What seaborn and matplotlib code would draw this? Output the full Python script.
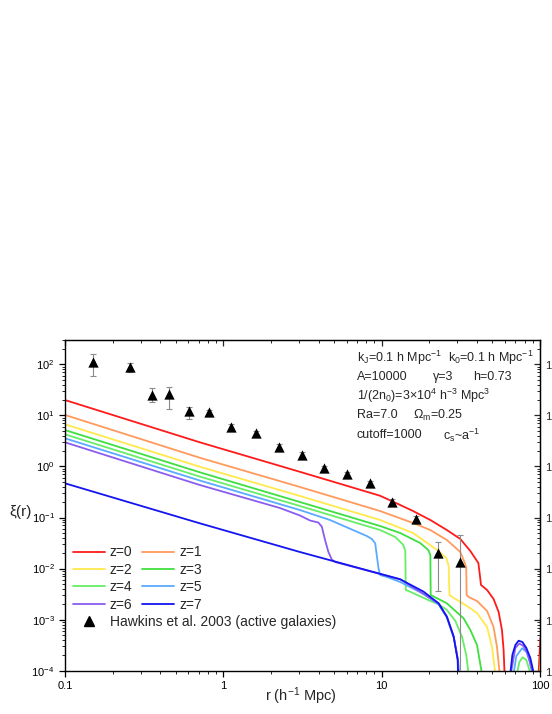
import numpy as np
import pandas as pd
import matplotlib
matplotlib.use("Agg")
import matplotlib.pyplot as plt
from matplotlib.lines import Line2D
from matplotlib.ticker import LogLocator, NullFormatter
import seaborn as sns

nan = np.nan

# model xi(r) curves per redshift, NaN marks where xi goes negative
z0_r = [0.1, 0.711, 3.05, 9.78, 13.1, 15.8, 20.3, 25.8, 31.4, 36.3, 40.8, 41.7, 42.4, 46.3, 50.9, 54.8, 57.5, 58.9, 59.8, nan, 96.7, 100.6]
z0_xi = [20.0, 2.97, 0.785, 0.267, 0.176, 0.134, 0.0894, 0.0569, 0.0380, 0.0221, 0.01286, 0.00748, 0.00477, 0.00381, 0.00254, 0.00141, 0.000627, 0.000255, 8e-5, nan, 4e-5, 4.4e-4]

z1_r = [0.1, 0.711, 3.05, 9.78, 15.8, 20.3, 25.8, 31.4, 33.7, 34.2, 34.4, 35.4, 40.0, 46.3, 50.9, 53.5, 55.8, nan, 98.4, 100.6]
z1_xi = [10.2, 1.48, 0.396, 0.134, 0.0781, 0.0569, 0.0363, 0.0211, 0.0123, 0.01026, 0.00304, 0.00278, 0.00232, 0.00148, 0.000718, 0.000291, 8e-5, nan, 4e-5, 1.94e-4]

z2_r = [0.1, 0.711, 3.05, 9.78, 15.8, 22.4, 25.6, 26.5, 26.8, 27.9, 31.4, 34.6, 40.0, 46.3, 49.8, 52.4, nan, 99.9, 100.6]
z2_xi = [6.69, 0.988, 0.264, 0.0894, 0.0497, 0.0231, 0.0161, 0.01123, 0.00304, 0.00278, 0.00222, 0.00185, 0.00135, 0.000718, 0.000291, 8e-5, nan, 4e-5, 1.18e-4]

z3_r = [0.1, 0.711, 3.05, 9.78, 13.1, 17.5, 19.7, 20.3, 20.4, 21.3, 25.8, 32.9, 36.3, 40.0, 43.2]
z3_xi = [5.17, 0.768, 0.201, 0.0682, 0.0497, 0.0317, 0.0231, 0.01845, 0.00304, 0.00284, 0.00209, 0.001063, 0.000627, 0.000319, 8e-5]

z4_r = [0.1, 0.711, 3.05, 9.78, 12.2, 13.7, 14.1, 14.2, 15.1, 20.3, 22.8, 25.8, 29.2, 32.2, 34.2, 35.5, nan, 71.6, 74.1, 77.7, 82.0, 86.9]
z4_xi = [4.26, 0.633, 0.168, 0.0569, 0.0415, 0.0290, 0.0221, 0.00381, 0.00353, 0.00232, 0.00202, 0.00155, 0.000941, 0.000457, 0.000203, 8e-5, nan, 9e-5, 1.48e-4, 1.83e-4, 1.62e-4, 9e-5]

z5_r = [0.1, 0.711, 3.05, 4.72, 8.06, 8.67, 9.10, 9.55, 9.78, 10.8, 13.1, 18.4, 22.9, 25.8, 28.5, 30.4, 30.9, nan, 68.2, 70.9, 77.1, 82.0, 85.7, 89.1]
z5_xi = [3.56, 0.530, 0.140, 0.0894, 0.0434, 0.0380, 0.0313, 0.01013, 0.00748, 0.00684, 0.00546, 0.00318, 0.00198, 0.001102, 0.000447, 0.000162, 8e-5, nan, 9e-5, 1.94e-4, 2.75e-4, 2.33e-4, 1.62e-4, 9e-5]

z6_r = [0.1, 0.711, 2.28, 3.05, 3.53, 3.98, 4.19, 4.39, 4.61, 4.84, 5.08, 13.1, 22.8, 25.8, 28.5, 30.3, 30.5, nan, 65.5, 69.9, 74.1, 78.5, 83.2, 90.2]
z6_xi = [2.97, 0.433, 0.1535, 0.1095, 0.0874, 0.0799, 0.0661, 0.0363, 0.0211, 0.01506, 0.01345, 0.00617, 0.00209, 0.001153, 0.000468, 0.000162, 8e-5, nan, 9e-5, 2.79e-4, 3.41e-4, 3.05e-4, 2.22e-4, 9e-5]

z7_r = [0.1, 0.711, 3.05, 13.1, 18.4, 22.9, 25.8, 28.5, 30.2, 30.4, nan, 65.0, 66.9, 69.9, 73.3, 77.4, 82.0, 86.9, 91.2]
z7_xi = [0.468, 0.0770, 0.0211, 0.00617, 0.00353, 0.00209, 0.001142, 0.000464, 0.000162, 8e-5, nan, 9e-5, 2.03e-4, 3.19e-4, 3.87e-4, 3.65e-4, 2.79e-4, 1.77e-4, 9e-5]

# Hawkins et al. 2003 (active galaxies)
haw_r = [0.150, 0.256, 0.352, 0.453, 0.608, 0.811, 1.11, 1.61, 2.26, 3.16, 4.35, 6.02, 8.46, 11.7, 16.4, 22.7, 31.4]
haw_xi = [112, 87, 25, 25.9, 12.2, 11.5, 6.0, 4.45, 2.37, 1.68, 0.92, 0.70, 0.468, 0.206, 0.092, 0.0200, 0.0133]
haw_lo = [59, 72, 18.5, 13.2, 8.4, 10.0, 5.2, 3.85, 2.05, 1.45, 0.80, 0.61, 0.41, 0.18, 0.080, 0.0037, 1e-6]
haw_hi = [159, 106, 34, 36, 14.8, 13.0, 6.8, 5.0, 2.7, 1.9, 1.04, 0.79, 0.53, 0.235, 0.105, 0.0336, 0.0455]

z_labels = ["z=0", "z=1", "z=2", "z=3", "z=4", "z=5", "z=6", "z=7"]
z_colors = ["#ff1a1a", "#ff9a5c", "#ffe94d", "#3fdf3f", "#66ee66", "#5aaaff", "#8a5cf0", "#1414f0"]

sns.set_style("ticks")
plt.rcParams["font.family"] = ["Liberation Sans", "DejaVu Sans"]
plt.rcParams["mathtext.fontset"] = "custom"
plt.rcParams["mathtext.rm"] = "Liberation Sans"
plt.rcParams["mathtext.it"] = "Liberation Sans:italic"
plt.rcParams["mathtext.default"] = "regular"

curves = [(z0_r, z0_xi), (z1_r, z1_xi), (z2_r, z2_xi), (z3_r, z3_xi),
          (z4_r, z4_xi), (z5_r, z5_xi), (z6_r, z6_xi), (z7_r, z7_xi)]
rows = []
for lab, (rr, xx) in zip(z_labels, curves):
    seg = 0
    for r, xi in zip(rr, xx):
        if np.isnan(r):
            seg += 1
            continue
        rows.append({"z": lab, "seg": seg, "r": r, "xi": xi})
df = pd.DataFrame(rows)

fig = plt.figure(figsize=(5.52, 7.14), dpi=100)
ax = fig.add_axes([65 / 552, 1 - 670.7 / 714, 475 / 552, 330.7 / 714])
ax.set_xscale("log")
ax.set_yscale("log")

sns.lineplot(data=df, x="r", y="xi", hue="z", units="seg", estimator=None, sort=False,
             palette=z_colors, linewidth=1.3, legend=False, ax=ax)

haw_xi_a = np.array(haw_xi)
yerr = [haw_xi_a - np.array(haw_lo), np.array(haw_hi) - haw_xi_a]
ax.errorbar(haw_r, haw_xi, yerr=yerr, fmt="none", ecolor="#8c8c8c", elinewidth=0.8,
            capsize=2.5, capthick=0.8, zorder=3)
sns.scatterplot(x=haw_r, y=haw_xi, marker="^", color="black", s=55, linewidth=0,
                zorder=4, ax=ax)

ax.set_xlim(0.1, 100)
ax.set_ylim(1e-4, 300)
ax.set_xlabel("")
ax.set_ylabel("")

ax.set_xticks([0.1, 1, 10, 100], labels=["0.1", "1", "10", "100"])
ax.xaxis.set_minor_locator(LogLocator(base=10, subs=np.arange(2, 10), numticks=20))
ax.xaxis.set_minor_formatter(NullFormatter())
ax.yaxis.set_major_locator(LogLocator(base=10, numticks=20))
ax.yaxis.set_minor_locator(LogLocator(base=10, subs=np.arange(2, 10), numticks=20))
ax.yaxis.set_minor_formatter(NullFormatter())
ax.tick_params(which="major", direction="out", length=4, width=0.9, labelsize=8, colors="black")
ax.tick_params(which="minor", direction="out", length=2.5, width=0.7)
for s in ax.spines.values():
    s.set_linewidth(1.0)
    s.set_color("black")

# mirrored axes: ticks pointing inward
sec_y = ax.secondary_yaxis("right")
sec_y.yaxis.set_major_locator(LogLocator(base=10, numticks=20))
sec_y.yaxis.set_minor_locator(LogLocator(base=10, subs=np.arange(2, 10), numticks=20))
sec_y.yaxis.set_minor_formatter(NullFormatter())
sec_y.tick_params(which="major", direction="in", length=4, width=0.9, labelsize=8)
sec_y.tick_params(which="minor", direction="in", length=2.5, width=0.7)
sec_x = ax.secondary_xaxis("top")
sec_x.set_xticks([0.1, 1, 10, 100])
sec_x.xaxis.set_major_formatter(NullFormatter())
sec_x.xaxis.set_minor_locator(LogLocator(base=10, subs=np.arange(2, 10), numticks=20))
sec_x.xaxis.set_minor_formatter(NullFormatter())
sec_x.tick_params(which="major", direction="in", length=4, width=0.9)
sec_x.tick_params(which="minor", direction="in", length=2.5, width=0.7)

ax.text(-0.0926, 0.48, "ξ(r)", transform=ax.transAxes, fontsize=11, ha="center", va="center")
ax.text(0.497, -0.0765, "r (h$^{-1}$ Mpc)", transform=ax.transAxes, fontsize=10.5,
        ha="center", va="center")

# parameter block
params = [
    (0.614, 0.9546, "k$_J$=0.1 h Mpc$^{-1}$"),
    (0.806, 0.9546, "k$_0$=0.1 h Mpc$^{-1}$"),
    (0.614, 0.894, "A=10000"),
    (0.775, 0.894, "γ=3"),
    (0.859, 0.894, "h=0.73"),
    (0.614, 0.839, "1/(2n$_0$)=3×10$^4$ h$^{-3}$ Mpc$^3$"),
    (0.614, 0.778, "Ra=7.0"),
    (0.733, 0.778, "Ω$_m$=0.25"),
    (0.614, 0.718, "cutoff=1000"),
    (0.796, 0.718, "c$_s$~a$^{-1}$"),
]
for px, py, txt in params:
    ax.text(px, py, txt, transform=ax.transAxes, fontsize=9, ha="left", va="center_baseline")

order = [0, 2, 4, 6, 1, 3, 5, 7]
handles = [Line2D([], [], color=z_colors[i], lw=1.3) for i in order]
labels = [z_labels[i] for i in order]
leg1 = ax.legend(handles, labels, ncol=2, loc="upper left", bbox_to_anchor=(0.0168, 0.379),
                 frameon=False, fontsize=10, handlelength=2.3, handletextpad=0.35,
                 columnspacing=0.7, labelspacing=0.25, borderpad=0, borderaxespad=0)
ax.add_artist(leg1)
haw_handle = Line2D([], [], marker="^", color="black", ls="none", markersize=7)
ax.legend([haw_handle], ["Hawkins et al. 2003 (active galaxies)"], loc="upper left",
          bbox_to_anchor=(0.0168, 0.169), frameon=False, fontsize=10, handlelength=2.3,
          handletextpad=0.35, borderpad=0, borderaxespad=0)

fig.savefig("out.png", dpi=100)
